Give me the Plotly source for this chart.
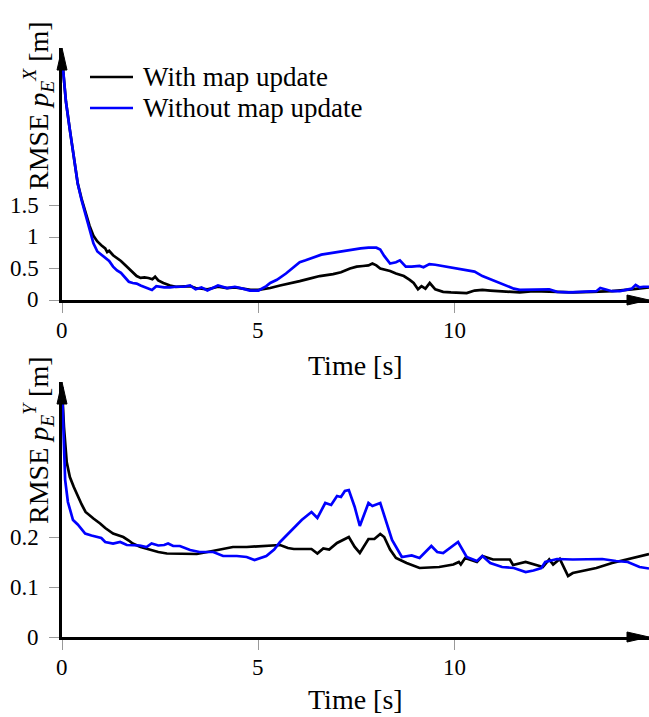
import plotly.graph_objects as go

# ---------------- data ----------------
# Top panel: RMSE p_E^X [m]
t_x_with = [0, 0.05, 0.1, 0.2, 0.3, 0.4, 0.5, 0.6, 0.7, 0.8, 0.9, 1.0, 1.1, 1.15, 1.2, 1.3, 1.4, 1.5,
            1.6, 1.7, 1.8, 1.9, 2.0, 2.1, 2.2, 2.3, 2.37, 2.45, 2.58, 2.75, 2.9, 3.1, 3.26, 3.4, 3.7,
            3.97, 4.2, 4.4, 4.6, 4.8, 5.0, 5.3, 5.55, 5.8, 6.05, 6.3, 6.56, 6.9, 7.1, 7.33, 7.5, 7.66,
            7.8, 7.9, 8.0, 8.1, 8.35, 8.5, 8.7, 8.85, 8.95, 9.06, 9.15, 9.25, 9.36, 9.5, 9.7, 9.9,
            10.1, 10.3, 10.5, 10.7, 10.9, 11.15, 11.4, 11.65, 12.0, 12.5, 13.0, 13.5, 14.0, 14.5, 14.94]
rmse_x_with = [3.85, 3.5, 3.15, 2.7, 2.25, 1.85, 1.6, 1.38, 1.18, 1.02, 0.93, 0.87, 0.82, 0.76, 0.78,
               0.71, 0.67, 0.62, 0.56, 0.5, 0.44, 0.38, 0.35, 0.36, 0.35, 0.33, 0.37, 0.31, 0.27, 0.23,
               0.21, 0.21, 0.22, 0.19, 0.17, 0.21, 0.19, 0.2, 0.18, 0.16, 0.16, 0.19, 0.23, 0.26, 0.3,
               0.34, 0.38, 0.41, 0.44, 0.5, 0.53, 0.54, 0.55, 0.58, 0.55, 0.5, 0.46, 0.42, 0.38, 0.32,
               0.27, 0.17, 0.22, 0.18, 0.27, 0.17, 0.13, 0.12, 0.11, 0.11, 0.15, 0.16, 0.15, 0.14, 0.14,
               0.12, 0.14, 0.13, 0.12, 0.13, 0.14, 0.17, 0.2]

t_x_without = [0, 0.05, 0.1, 0.2, 0.3, 0.4, 0.5, 0.6, 0.7, 0.8, 0.9, 1.0, 1.1, 1.2, 1.3, 1.4, 1.5, 1.6,
               1.7, 1.8, 1.9, 2.0, 2.15, 2.29, 2.4, 2.6, 2.75, 2.9, 3.1, 3.26, 3.4, 3.55, 3.7, 3.97,
               4.2, 4.4, 4.6, 4.78, 5.0, 5.2, 5.3, 5.47, 5.7, 5.9, 6.05, 6.2, 6.4, 6.6, 6.8, 7.0, 7.2,
               7.4, 7.6, 7.8, 8.0, 8.1, 8.2, 8.35, 8.5, 8.6, 8.75, 8.9, 9.1, 9.2, 9.35, 9.5, 9.7, 9.9,
               10.1, 10.3, 10.5, 10.7, 10.9, 11.1, 11.3, 11.5, 11.65, 11.9, 12.2, 12.4, 12.6, 12.9,
               13.2, 13.5, 13.6, 13.7, 13.8, 14.0, 14.2, 14.4, 14.5, 14.6, 14.7, 14.8, 14.94]
rmse_x_without = [3.85, 3.5, 3.15, 2.7, 2.25, 1.85, 1.58, 1.35, 1.12, 0.9, 0.77, 0.72, 0.66, 0.62,
                  0.53, 0.47, 0.43, 0.36, 0.29, 0.27, 0.26, 0.23, 0.2, 0.16, 0.22, 0.2, 0.2, 0.21,
                  0.21, 0.23, 0.17, 0.2, 0.15, 0.23, 0.19, 0.21, 0.18, 0.15, 0.15, 0.22, 0.27, 0.32,
                  0.42, 0.52, 0.6, 0.63, 0.68, 0.72, 0.74, 0.76, 0.79, 0.8, 0.82, 0.83, 0.83, 0.8,
                  0.7, 0.58, 0.6, 0.63, 0.53, 0.53, 0.54, 0.52, 0.57, 0.56, 0.54, 0.52, 0.49, 0.47,
                  0.45, 0.38, 0.33, 0.28, 0.23, 0.18, 0.16, 0.16, 0.16, 0.17, 0.13, 0.12, 0.13, 0.14,
                  0.14, 0.19, 0.17, 0.14, 0.14, 0.16, 0.18, 0.24, 0.2, 0.21, 0.21]

# Bottom panel: RMSE p_E^Y [m]
t_y_with = [0, 0.05, 0.12, 0.2, 0.3, 0.41, 0.5, 0.6, 0.67, 0.8, 0.97, 1.1, 1.3, 1.45, 1.56, 1.7, 1.8,
            2.0, 2.24, 2.45, 2.67, 3.0, 3.43, 3.7, 3.94, 4.2, 4.35, 4.7, 5.1, 5.35, 5.55, 5.75, 5.9,
            6.35, 6.5, 6.65, 6.8, 7.0, 7.3, 7.45, 7.58, 7.8, 7.95, 8.1, 8.2, 8.35, 8.5, 8.77, 9.1,
            9.6, 9.96, 10.1, 10.15, 10.26, 10.56, 10.7, 10.97, 11.4, 11.48, 11.8, 12.0, 12.24, 12.4,
            12.5, 12.67, 12.88, 13.0, 13.6, 14.0, 14.5, 14.94]
rmse_y_with = [0.5, 0.42, 0.35, 0.32, 0.3, 0.28, 0.265, 0.25, 0.245, 0.237, 0.227, 0.218, 0.207,
               0.203, 0.2, 0.193, 0.187, 0.18, 0.174, 0.17, 0.167, 0.166, 0.166, 0.17, 0.174, 0.178,
               0.18, 0.18, 0.182, 0.182, 0.184, 0.178, 0.176, 0.176, 0.167, 0.177, 0.175, 0.188, 0.2,
               0.18, 0.168, 0.196, 0.196, 0.206, 0.2, 0.175, 0.158, 0.148, 0.138, 0.14, 0.145, 0.15,
               0.145, 0.158, 0.15, 0.162, 0.155, 0.155, 0.144, 0.15, 0.145, 0.14, 0.155, 0.145,
               0.156, 0.122, 0.128, 0.138, 0.148, 0.158, 0.166]

t_y_without = [0, 0.04, 0.08, 0.15, 0.28, 0.4, 0.5, 0.59, 0.75, 0.88, 1.0, 1.1, 1.3, 1.48, 1.65, 1.98,
               2.15, 2.28, 2.45, 2.6, 2.7, 2.83, 3.0, 3.26, 3.5, 3.85, 4.1, 4.45, 4.6, 4.7, 4.9, 5.2,
               5.4, 5.55, 5.8, 6.1, 6.35, 6.5, 6.7, 6.85, 7.0, 7.1, 7.2, 7.3, 7.45, 7.58, 7.8, 7.9,
               8.1, 8.25, 8.4, 8.65, 8.9, 9.1, 9.4, 9.55, 9.7, 10.08, 10.3, 10.56, 10.7, 10.9, 11.2,
               11.5, 11.8, 12.0, 12.2, 12.3, 12.6, 13.0, 13.5, 13.75, 14.1, 14.4, 14.7, 14.94]
rmse_y_without = [0.5, 0.4, 0.314, 0.27, 0.234, 0.225, 0.215, 0.207, 0.203, 0.2, 0.198, 0.19, 0.187,
                  0.19, 0.184, 0.183, 0.18, 0.187, 0.183, 0.184, 0.187, 0.182, 0.182, 0.174, 0.17,
                  0.17, 0.162, 0.162, 0.16, 0.16, 0.154, 0.162, 0.175, 0.19, 0.21, 0.234, 0.25,
                  0.238, 0.268, 0.264, 0.282, 0.28, 0.292, 0.294, 0.26, 0.222, 0.268, 0.262, 0.268,
                  0.23, 0.194, 0.16, 0.163, 0.158, 0.182, 0.17, 0.168, 0.19, 0.16, 0.152, 0.162,
                  0.148, 0.14, 0.138, 0.13, 0.133, 0.138, 0.15, 0.156, 0.155, 0.155, 0.156, 0.152,
                  0.15, 0.14, 0.137]

x_ticks = [0, 5, 10]
x_tick_text = ["0", "5", "10"]
y_top_ticks = [0, 0.5, 1, 1.5]
y_top_tick_text = ["0", "0.5", "1", "1.5"]
y_bot_ticks = [0, 0.1, 0.2]
y_bot_tick_text = ["0", "0.1", "0.2"]

series_names = ["With map update", "Without map update"]
series_colors = ["#000000", "#0000ff"]

X_MAX = 14.94
Y_TOP_MAX = 4.0
Y_BOT_MAX = 0.51

# ---------------- figure ----------------
W, H = 649, 717
ML = 62
PW = W - ML
FONT = "Liberation Serif"
LW = 2.7
TICK_FONT = dict(family=FONT, size=23, color="black")


def py2paper(py):
    return 1 - py / H


def px2paper(px):
    return (px - ML) / PW


fig = go.Figure()

fig.add_trace(go.Scatter(x=t_x_with, y=rmse_x_with, mode="lines", name=series_names[0],
                         line=dict(color=series_colors[0], width=LW), xaxis="x", yaxis="y"))
fig.add_trace(go.Scatter(x=t_x_without, y=rmse_x_without, mode="lines", name=series_names[1],
                         line=dict(color=series_colors[1], width=LW), xaxis="x", yaxis="y"))
fig.add_trace(go.Scatter(x=t_y_with, y=rmse_y_with, mode="lines", name=series_names[0],
                         line=dict(color=series_colors[0], width=LW), xaxis="x2", yaxis="y2"))
fig.add_trace(go.Scatter(x=t_y_without, y=rmse_y_without, mode="lines", name=series_names[1],
                         line=dict(color=series_colors[1], width=LW), xaxis="x2", yaxis="y2"))

common_x = dict(range=[0, X_MAX], showgrid=False, zeroline=False, showline=True,
                linecolor="black", linewidth=2.5, ticks="outside", ticklen=10,
                tickcolor="#999999", tickwidth=1, tickvals=x_ticks, showticklabels=False,
                fixedrange=True, domain=[0, 1])
common_y = dict(showgrid=False, zeroline=False, showline=True, linecolor="black",
                linewidth=2.5, ticks="outside", ticklen=10, tickcolor="#999999", tickwidth=1,
                showticklabels=False, fixedrange=True)

TOP_Y0, TOP_Y1 = 300, 48
BOT_Y0, BOT_Y1 = 637, 382

fig.update_layout(
    width=W, height=H,
    margin=dict(l=ML, r=0, t=0, b=0),
    paper_bgcolor="white", plot_bgcolor="white",
    font=dict(family=FONT, size=23, color="black"),
    xaxis=dict(common_x, anchor="y"),
    yaxis=dict(common_y, range=[0, Y_TOP_MAX], tickvals=y_top_ticks,
               domain=[py2paper(TOP_Y0), py2paper(TOP_Y1)], anchor="x"),
    xaxis2=dict(common_x, anchor="y2"),
    yaxis2=dict(common_y, range=[0, Y_BOT_MAX], tickvals=y_bot_ticks,
                domain=[py2paper(BOT_Y0), py2paper(BOT_Y1)], anchor="x2"),
    showlegend=False,
)

# tick labels placed through the axes' own scales
for xr, y0 in (("x", TOP_Y0), ("x2", BOT_Y0)):
    for v, s in zip(x_ticks, x_tick_text):
        fig.add_annotation(text=s, xref=xr, yref="paper", x=v, y=py2paper(y0),
                           xanchor="center", yanchor="middle", yshift=-30,
                           showarrow=False, font=TICK_FONT)
for yr, vals, texts in (("y", y_top_ticks, y_top_tick_text), ("y2", y_bot_ticks, y_bot_tick_text)):
    for v, s in zip(vals, texts):
        fig.add_annotation(text=s, xref="paper", yref=yr, x=0, y=v,
                           xanchor="right", yanchor="middle", xshift=-21,
                           showarrow=False, font=TICK_FONT)

# arrowheads on axis ends (paper refs so they are not clipped)
arrow_x = "M-22,-5 L0,0 L-22,5 Z"
arrow_y = "M-5,-22 L0,0 L5,-22 Z"
for y0, y1 in ((TOP_Y0, TOP_Y1), (BOT_Y0, BOT_Y1)):
    fig.add_shape(type="path", xref="paper", yref="paper", xsizemode="pixel", ysizemode="pixel",
                  xanchor=1, yanchor=py2paper(y0), path=arrow_x, fillcolor="black",
                  line=dict(color="black", width=1))
    fig.add_shape(type="path", xref="paper", yref="paper", xsizemode="pixel", ysizemode="pixel",
                  xanchor=0, yanchor=py2paper(y1), path=arrow_y, fillcolor="black",
                  line=dict(color="black", width=1))

# manual legend
for i, (name, color) in enumerate(zip(series_names, series_colors)):
    ly = 77 + 31 * i
    fig.add_shape(type="line", xref="paper", yref="paper",
                  x0=px2paper(90), x1=px2paper(133), y0=py2paper(ly), y1=py2paper(ly),
                  line=dict(color=color, width=LW))
    fig.add_annotation(text=name, xref="paper", yref="paper", x=px2paper(141), y=py2paper(ly),
                       xanchor="left", yanchor="middle", showarrow=False,
                       font=dict(family=FONT, size=27, color="black"))

# axis titles
for cy in (365, 699):
    fig.add_annotation(text="Time [s]", xref="paper", yref="paper", x=0.5, y=py2paper(cy),
                       xanchor="center", yanchor="middle", showarrow=False,
                       font=dict(family=FONT, size=28))
for lab, cy in (("X", 106), ("Y", 440)):
    fig.add_annotation(text="RMSE <i>p</i><sub><i>E</i></sub><sup><i>%s</i></sup> [m]" % lab,
                       xref="paper", yref="paper", x=px2paper(38), y=py2paper(cy),
                       xanchor="center", yanchor="middle", textangle=-90, showarrow=False,
                       font=dict(family=FONT, size=28))

fig.write_html("out.html")
